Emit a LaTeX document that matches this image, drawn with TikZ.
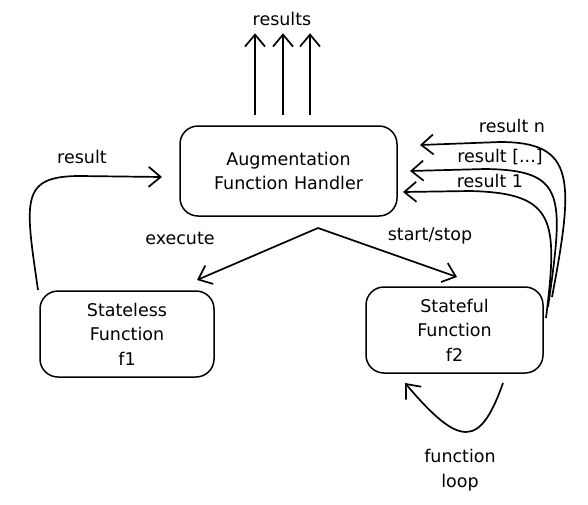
\documentclass[tikz,border=0pt]{standalone}
\usepackage{fontspec}
\setmainfont{DejaVu Sans}
\usetikzlibrary{arrows.meta}

\tikzset{
  every node/.style={font=\fontsize{17.5}{24.5}\selectfont, align=center},
  fn box/.style={draw, line width=1.5pt, rounded corners=18pt, minimum width=#1, minimum height=86pt, inner sep=0pt},
  arr/.style={line width=1.7pt, -{Straight Barb[length=12pt,width=20pt]}},
}

\begin{document}
\begin{tikzpicture}[x=1pt,y=-1pt]
  \useasboundingbox (0,0) rectangle (588,504);

  \node [fn box=217pt, minimum height=90pt] (handler)   at (288.5,171) {Augmentation\\Function Handler};
  \node [fn box=174pt]                      (stateless) at (127,334)   {Stateless\\Function\\f1};
  \node [fn box=177pt]                      (stateful)  at (454.5,330) {Stateful\\Function\\f2};

  \coordinate (fork) at (318,228);

  % outputs of the handler
  \node (results) at (282,19) {results};
  \foreach \dx in {-33.5,-5.5,21.5}
    \draw [arr] ([xshift=\dx pt,yshift=10pt]handler.north) -- ++(0,-82);

  % handler drives the functions
  \draw [arr] (fork) -- (197,280);
  \draw [arr] (fork) -- (457,277);
  \node at (180,238) {execute};
  \node at (430,236) {start/stop};

  % results back to the handler
  \draw [arr] (38,290) .. controls (25,200) and (20,176) .. (80,176) -- (162,177);
  \node at (82,157) {result};

  \draw [arr] (546,318) .. controls (558,220) and (556,193) .. (470,191) -- (403,192);
  \draw [arr] (548,307) .. controls (564,195) and (566,170) .. (485,169) -- (410,171);
  \draw [arr] (552,297) .. controls (574,180) and (576,142) .. (500,142) -- (420,145);
  \node at (490,181) {result 1};
  \node at (500,157) {result [...]};
  \node at (512,126) {result n};

  % loop of the stateful function
  \draw [arr] (503,383) .. controls (480,448) and (460,448) .. (405,383);
  \node at (460,470) {function\\loop};

\end{tikzpicture}
\end{document}
